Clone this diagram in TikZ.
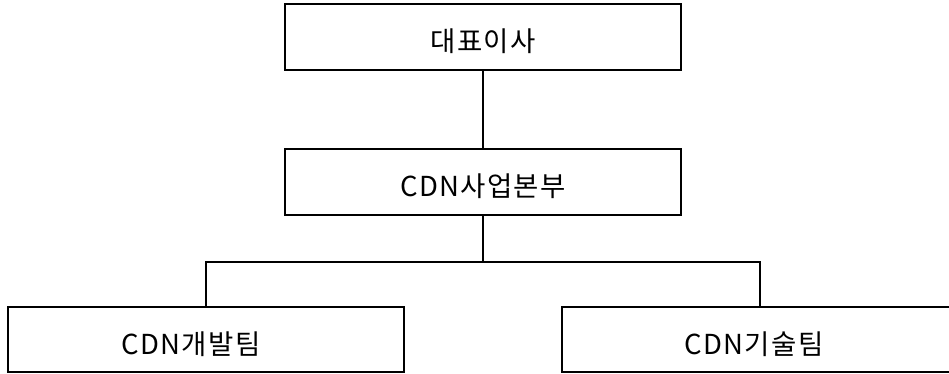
\documentclass[tikz,border=0pt]{standalone}
\usepackage{fontspec}
\newfontfamily\krfont[LetterSpace=5]{Noto Sans CJK KR}
\begin{document}
\begin{tikzpicture}[x=1pt,y=1pt,
  box/.style={draw=black,line width=2pt,minimum width=396pt,minimum height=66pt,inner sep=0pt,fill=white},
  lbl/.style={font=\krfont\fontsize{27.5}{32}\selectfont,inner sep=0pt,text=black},
  conn/.style={draw=black,line width=2pt}]
\useasboundingbox (0,0) rectangle (949,374);
\clip (0,0) rectangle (949,374);
\node[box] (ceo) at (483,337) {};
\node[box] (div) at (483,192) {};
\node[box,minimum height=65pt] (dev) at (206,34.5) {};
\node[box,minimum height=65pt,minimum width=430pt] (tech) at (777,34.5) {};
\node[lbl] (ceot) at (483,332.5) {대표이사};
\node[lbl] (divt) at (483,187.5) {CDN사업본부};
\node[lbl] (devt) at (191,30) {CDN개발팀};
\node[lbl] (techt) at (754,30) {CDN기술팀};
\coordinate (j) at (483,112.3);
\draw[conn] (ceo.south) -- (div.north);
\draw[conn] (div.south) -- (j);
\draw[conn] (dev.north) |- (j) -| ([xshift=-17pt]tech.north);
\end{tikzpicture}
\end{document}
